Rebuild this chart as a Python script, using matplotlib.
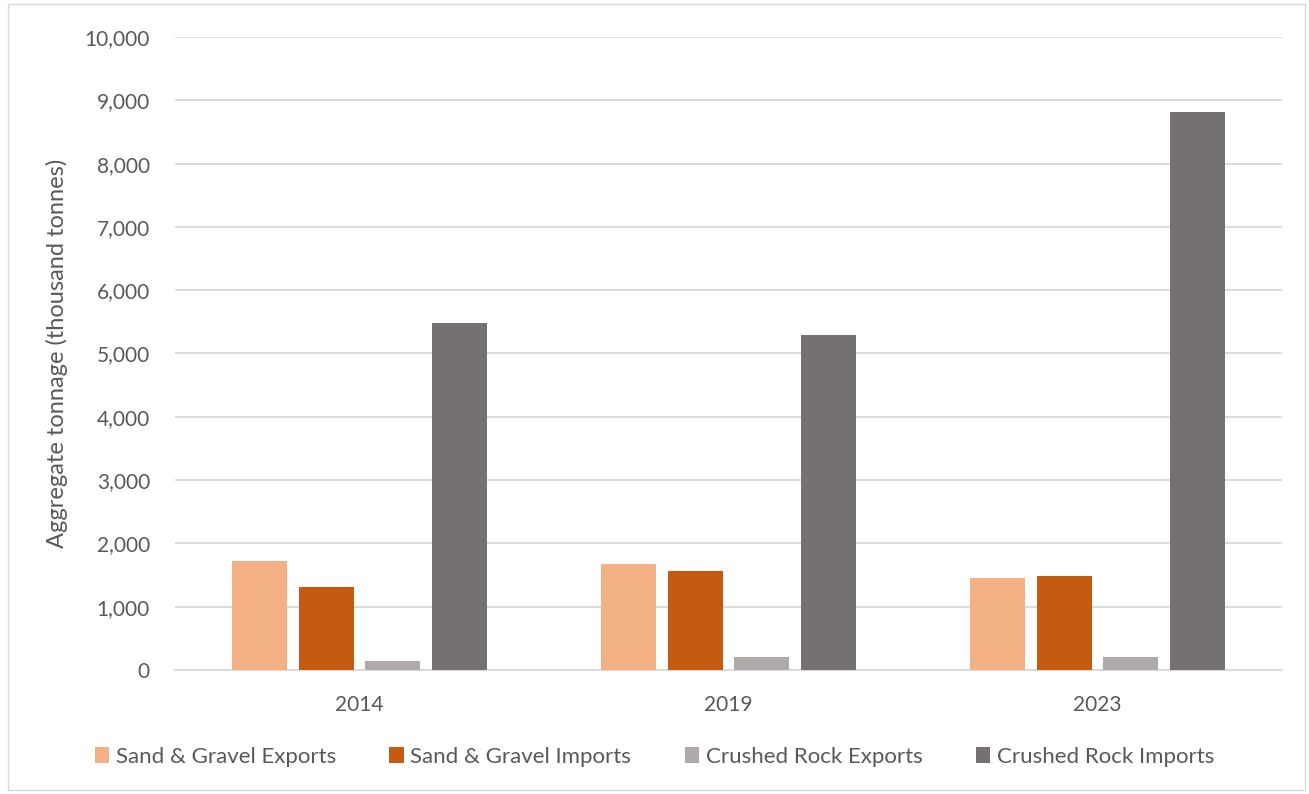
import numpy as np
import matplotlib.pyplot as plt
from matplotlib.patches import Rectangle
from matplotlib.ticker import FuncFormatter

years = ['2014', '2019', '2023']
series = ['Sand & Gravel Exports', 'Sand & Gravel Imports',
          'Crushed Rock Exports', 'Crushed Rock Imports']
sg_exports = [1720, 1680, 1455]
sg_imports = [1312, 1565, 1480]
cr_exports = [146, 210, 210]
cr_imports = [5482, 5297, 8820]
colors = ['#F4B183', '#C55A11', '#AEAAAA', '#767171']

plt.rcParams['font.family'] = ['Lato', 'DejaVu Sans']
text_color = '#595959'

fig = plt.figure(figsize=(13.09, 7.94), dpi=100)
ax = fig.add_axes([175 / 1309, 1 - 670 / 794, (1282 - 175) / 1309, (670 - 37) / 794])

x = np.arange(len(years))
width = 0.149
step = 0.18
values = [sg_exports, sg_imports, cr_exports, cr_imports]
for i, (vals, c, name) in enumerate(zip(values, colors, series)):
    ax.bar(x + (i - 1.5) * step, vals, width, color=c, label=name, zorder=3)

ax.set_xlim(-0.5, 2.5)
ax.set_ylim(0, 10000)
ax.set_yticks(np.arange(0, 10001, 1000))
ax.yaxis.set_major_formatter(FuncFormatter(lambda v, p: f'{int(v):,}'))
ax.set_xticks(x)
ax.set_xticklabels(years)
ax.grid(axis='y', color='#D9D9D9', linewidth=1.3, zorder=0)
for s in ['top', 'right', 'left']:
    ax.spines[s].set_visible(False)
ax.spines['bottom'].set_color('#D9D9D9')
ax.spines['bottom'].set_linewidth(1.3)
ax.tick_params(axis='both', length=0, labelsize=15, colors=text_color)
ax.tick_params(axis='y', pad=18)
ax.tick_params(axis='x', pad=18)
ax.set_ylabel('Aggregate tonnage (thousand tonnes)', fontsize=17, color=text_color, labelpad=12)

leg = fig.legend(loc='center', bbox_to_anchor=(0.5, 1 - 757 / 794), ncol=4, frameon=False,
                 fontsize=16, handlelength=0.65, handleheight=0.7, handletextpad=0.3,
                 columnspacing=2.4)
for t in leg.get_texts():
    t.set_color(text_color)

fig.patches.append(Rectangle((8 / 1309, 4 / 794), 1297 / 1309, 786 / 794, transform=fig.transFigure,
                             fill=False, edgecolor='#D9D9D9', linewidth=1))

fig.savefig('out.png', dpi=100)
